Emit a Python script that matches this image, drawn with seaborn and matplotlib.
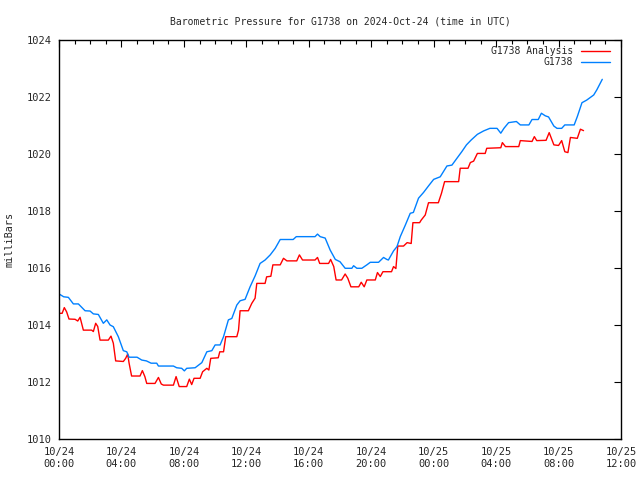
"""Barometric pressure for G1738 — station vs analysis, gnuplot-style look."""
import matplotlib

matplotlib.use("Agg")
import matplotlib.pyplot as plt
from matplotlib.ticker import MultipleLocator
import pandas as pd
import seaborn as sns

sns.set_theme(style="white")
plt.rcParams["font.family"] = ["DejaVu Sans Mono"]

# hours since 2024-10-24 00:00 UTC, pressure in mb
station_hours = [0.0, 0.3, 0.6, 0.92, 1.24, 1.67, 1.99, 2.2, 2.52, 2.84, 3.06, 3.27, 3.48, 3.8,
                 4.12, 4.34, 4.49, 5.0, 5.3, 5.6, 5.9, 6.26, 6.37, 7.33, 7.54, 7.86, 8.03, 8.18,
                 8.72, 9.15, 9.47, 9.79, 10.0, 10.32, 10.54, 10.85, 11.07, 11.39, 11.6, 11.92,
                 12.24, 12.56, 12.88, 13.2, 13.53, 13.85, 14.17, 15.0, 15.2, 16.4, 16.56, 16.73,
                 17.05, 17.37, 17.7, 18.0, 18.33, 18.76, 18.87, 19.08, 19.4, 19.72, 19.94, 20.47,
                 20.79, 21.0, 21.1, 21.43, 21.65, 21.86, 22.18, 22.5, 22.7, 23.03, 23.35, 23.67,
                 24.0, 24.42, 24.85, 25.17, 25.49, 25.8, 26.1, 26.4, 26.8, 27.2, 27.6, 28.06,
                 28.3, 28.5, 28.8, 29.3, 29.55, 30.1, 30.3, 30.7, 30.9, 31.15, 31.36, 31.7, 31.9,
                 32.2, 32.4, 33.0, 33.2, 33.5, 33.8, 34.25, 34.45, 34.8]
station_mb = [1015.09, 1014.99, 1014.97, 1014.74, 1014.74, 1014.50, 1014.49, 1014.39, 1014.37,
              1014.06, 1014.18, 1014.00, 1013.94, 1013.59, 1013.10, 1013.06, 1012.87, 1012.87,
              1012.77, 1012.74, 1012.66, 1012.66, 1012.56, 1012.56, 1012.50, 1012.48, 1012.39,
              1012.48, 1012.50, 1012.68, 1013.06, 1013.10, 1013.30, 1013.30, 1013.59, 1014.18,
              1014.23, 1014.70, 1014.85, 1014.90, 1015.34, 1015.72, 1016.16, 1016.28, 1016.46,
              1016.69, 1017.00, 1017.00, 1017.10, 1017.10, 1017.19, 1017.10, 1017.05, 1016.63,
              1016.30, 1016.22, 1015.99, 1015.99, 1016.08, 1015.99, 1015.99, 1016.11, 1016.20,
              1016.20, 1016.37, 1016.30, 1016.28, 1016.60, 1016.75, 1017.10, 1017.50, 1017.92,
              1017.95, 1018.45, 1018.65, 1018.88, 1019.11, 1019.20, 1019.58, 1019.61, 1019.85,
              1020.08, 1020.32, 1020.49, 1020.69, 1020.81, 1020.90, 1020.90, 1020.73, 1020.90,
              1021.10, 1021.14, 1021.02, 1021.02, 1021.21, 1021.21, 1021.43, 1021.34, 1021.30,
              1020.98, 1020.90, 1020.90, 1021.02, 1021.02, 1021.31, 1021.80, 1021.89, 1022.07,
              1022.25, 1022.62]

analysis_hours = [0.0, 0.2, 0.34, 0.49, 0.64, 1.03, 1.2, 1.35, 1.56, 2.09, 2.2, 2.35, 2.48, 2.63,
                  3.16, 3.33, 3.48, 3.63, 4.12, 4.27, 4.4, 4.49, 4.65, 5.19, 5.34, 5.5, 5.62,
                  6.15, 6.37, 6.55, 6.69, 7.33, 7.5, 7.7, 8.18, 8.35, 8.5, 8.65, 9.04, 9.2, 9.47,
                  9.6, 9.72, 10.2, 10.3, 10.54, 10.68, 11.39, 11.5, 11.6, 12.13, 12.35, 12.56,
                  12.67, 13.2, 13.3, 13.57, 13.7, 14.17, 14.38, 14.6, 15.23, 15.4, 15.6, 16.4,
                  16.56, 16.7, 17.27, 17.4, 17.6, 17.75, 18.1, 18.33, 18.5, 18.7, 19.2, 19.36,
                  19.55, 19.72, 20.26, 20.4, 20.58, 20.75, 21.3, 21.43, 21.58, 21.7, 22.07, 22.3,
                  22.56, 22.67, 23.1, 23.2, 23.46, 23.67, 24.3, 24.5, 24.7, 25.6, 25.7, 26.2,
                  26.35, 26.56, 26.8, 27.3, 27.4, 28.3, 28.4, 28.6, 29.45, 29.55, 30.3, 30.45,
                  30.6, 31.2, 31.4, 31.7, 32.0, 32.2, 32.4, 32.6, 32.76, 33.2, 33.4, 33.6]
analysis_mb = [1014.41, 1014.41, 1014.61, 1014.46, 1014.21, 1014.20, 1014.14, 1014.27, 1013.82,
               1013.82, 1013.77, 1014.06, 1013.95, 1013.47, 1013.47, 1013.61, 1013.36, 1012.74,
               1012.72, 1012.83, 1012.98, 1012.66, 1012.21, 1012.21, 1012.40, 1012.19, 1011.95,
               1011.95, 1012.16, 1011.93, 1011.89, 1011.89, 1012.19, 1011.84, 1011.84, 1012.10,
               1011.91, 1012.13, 1012.13, 1012.36, 1012.48, 1012.42, 1012.83, 1012.85, 1013.06,
               1013.06, 1013.59, 1013.59, 1013.82, 1014.50, 1014.50, 1014.76, 1014.94, 1015.46,
               1015.46, 1015.69, 1015.71, 1016.11, 1016.11, 1016.34, 1016.25, 1016.25, 1016.46,
               1016.28, 1016.28, 1016.37, 1016.16, 1016.16, 1016.30, 1016.05, 1015.58, 1015.58,
               1015.79, 1015.64, 1015.34, 1015.34, 1015.50, 1015.34, 1015.58, 1015.58, 1015.84,
               1015.70, 1015.87, 1015.87, 1016.05, 1015.98, 1016.77, 1016.77, 1016.89, 1016.86,
               1017.59, 1017.59, 1017.68, 1017.86, 1018.29, 1018.29, 1018.62, 1019.03, 1019.03,
               1019.50, 1019.50, 1019.70, 1019.75, 1020.02, 1020.02, 1020.20, 1020.22, 1020.40,
               1020.26, 1020.26, 1020.47, 1020.44, 1020.61, 1020.47, 1020.48, 1020.75, 1020.32,
               1020.30, 1020.47, 1020.08, 1020.05, 1020.58, 1020.55, 1020.87, 1020.82]

tick_hours = [0, 4, 8, 12, 16, 20, 24, 28, 32, 36]
tick_labels = ["10/24\n00:00", "10/24\n04:00", "10/24\n08:00", "10/24\n12:00", "10/24\n16:00",
               "10/24\n20:00", "10/25\n00:00", "10/25\n04:00", "10/25\n08:00", "10/25\n12:00"]

analysis = pd.DataFrame({"hour": analysis_hours, "mb": analysis_mb})
station = pd.DataFrame({"hour": station_hours, "mb": station_mb})

fig = plt.figure(figsize=(6.4, 4.8), dpi=100)
ax = fig.add_axes([59 / 640, 41 / 480, 562 / 640, 399 / 480])

sns.lineplot(data=analysis, x="hour", y="mb", ax=ax, color="#ff0000", lw=1.0,
             label="G1738 Analysis", estimator=None, sort=False)
sns.lineplot(data=station, x="hour", y="mb", ax=ax, color="#0080ff", lw=1.0,
             label="G1738", estimator=None, sort=False)

ax.set_xlim(0, 36)
ax.set_ylim(1010, 1024)
ax.set_xticks(tick_hours)
ax.set_xticklabels(tick_labels, fontsize=7.5, linespacing=1.25)
ax.xaxis.set_minor_locator(MultipleLocator(1))
ax.yaxis.set_major_locator(MultipleLocator(2))
ax.tick_params(axis="y", labelsize=7.5, pad=5)
ax.tick_params(axis="x", pad=6)
ax.tick_params(which="both", direction="in", top=True, right=True, color="black")
ax.tick_params(which="major", length=5, width=0.8)
ax.tick_params(which="minor", length=3, width=0.8)
for s in ax.spines.values():
    s.set_color("black")
    s.set_linewidth(1)
ax.set_xlabel("")
ax.set_ylabel("milliBars", fontsize=7.3, labelpad=9)
ax.set_title("Barometric Pressure for G1738 on 2024-Oct-24 (time in UTC)", fontsize=7, pad=11)
ax.legend(loc="upper right", bbox_to_anchor=(0.980, 0.985), frameon=False, markerfirst=False,
          fontsize=7, handlelength=3.0, handletextpad=0.8, labelspacing=0.15,
          borderpad=0, borderaxespad=0)

fig.savefig("out.png", dpi=100)
plt.close(fig)
